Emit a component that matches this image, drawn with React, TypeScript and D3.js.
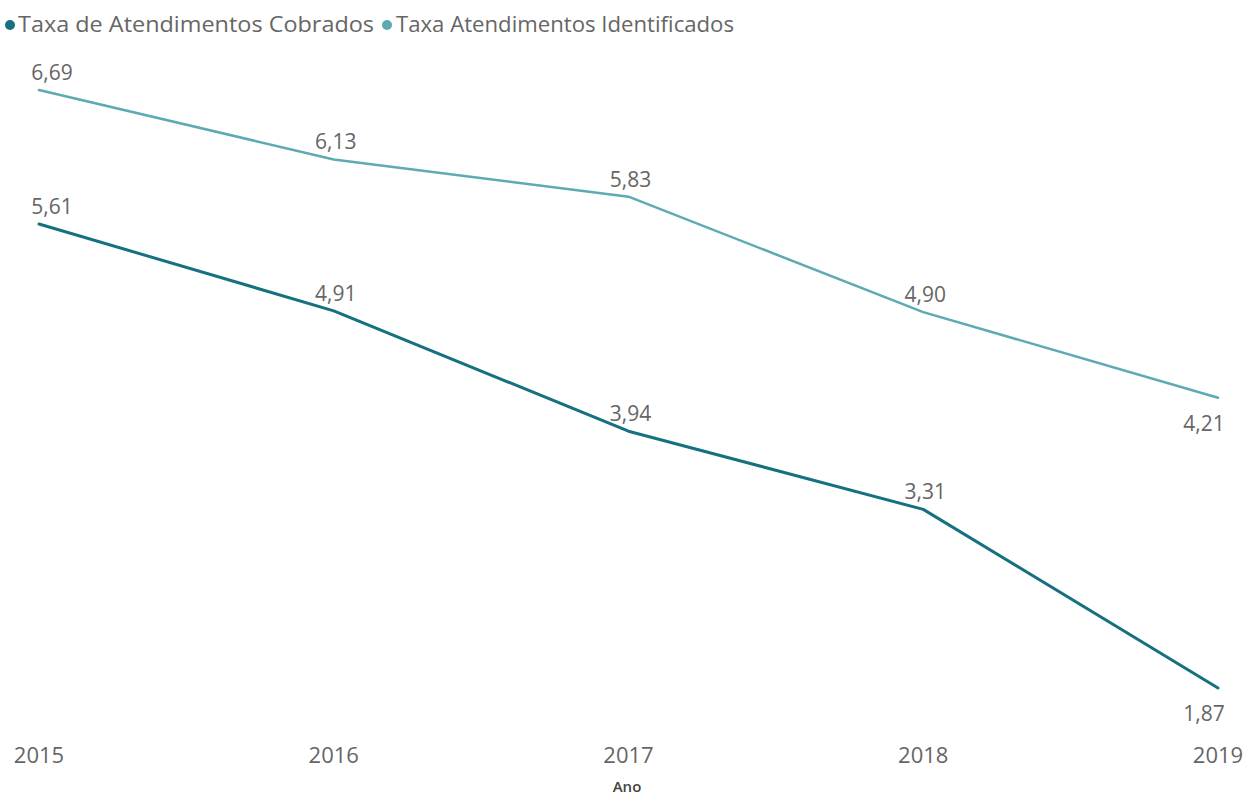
import React from "react";
import * as d3 from "d3";

const years = ["2015", "2016", "2017", "2018", "2019"];
const cobrados = [5.61, 4.91, 3.94, 3.31, 1.87];
const identificados = [6.69, 6.13, 5.83, 4.9, 4.21];
const cobradosLabelPos = ["above", "above", "above", "above", "below"];
const identificadosLabelPos = ["above", "above", "above", "above", "below"];
const seriesNames = ["Taxa de Atendimentos Cobrados", "Taxa Atendimentos Identificados"];
const xAxisTitle = "Ano";

const W = 1248;
const H = 796;
const FONT = "'Open Sans', 'Noto Sans', sans-serif";
const DARK = "#15707f";
const LIGHT = "#5eaab2";
const TEXT = "#666666";

export default function App() {
  const x = d3.scalePoint<string>().domain(years).range([39, 1218]);
  const y = d3.scaleLinear().domain([1.87, 6.69]).range([688, 90]);
  const line = d3
    .line<number>()
    .x((_, i) => x(years[i]) as number)
    .y((d) => y(d));

  const fmt = (v: number) => v.toFixed(2).replace(".", ",");

  const series = [
    { name: seriesNames[0], data: cobrados, pos: cobradosLabelPos, color: DARK, width: 3 },
    { name: seriesNames[1], data: identificados, pos: identificadosLabelPos, color: LIGHT, width: 2.5 },
  ];

  const labelX = (i: number) => {
    const px = x(years[i]) as number;
    if (i === 0) return px + 13;
    if (i === years.length - 1) return px - 14;
    return px + 2;
  };

  return (
    <svg
      width={W}
      height={H}
      style={{ position: "absolute", left: 0, top: 0, background: "#fff" }}
      fontFamily={FONT}
    >
      {/* legend */}
      <g>
        <circle cx={10} cy={25} r={5} fill={DARK} />
        <text x={18} y={32} fontSize={22} fill={TEXT} textLength={356} lengthAdjust="spacingAndGlyphs">
          {seriesNames[0]}
        </text>
        <circle cx={387} cy={25} r={5} fill={LIGHT} />
        <text x={396} y={32} fontSize={22} fill={TEXT} textLength={338} lengthAdjust="spacingAndGlyphs">
          {seriesNames[1]}
        </text>
      </g>

      {/* lines */}
      {series.map((s) => (
        <path
          key={s.name}
          d={line(s.data) || ""}
          fill="none"
          stroke={s.color}
          strokeWidth={s.width}
          strokeLinejoin="round"
          strokeLinecap="round"
        />
      ))}

      {/* data labels */}
      {series.map((s) =>
        s.data.map((v, i) => {
          const pos = s.pos[i];
          const yy = y(v) + (pos === "below" ? 33 : -10);
          return (
            <text
              key={s.name + i}
              x={labelX(i)}
              y={yy}
              fontSize={21}
              fill={TEXT}
              textAnchor="middle"
            >
              {fmt(v)}
            </text>
          );
        })
      )}

      {/* x axis ticks */}
      {years.map((yr) => (
        <text
          key={yr}
          x={x(yr) as number}
          y={763}
          fontSize={22}
          fill={TEXT}
          textAnchor="middle"
        >
          {yr}
        </text>
      ))}
      <text x={627} y={792} fontSize={15} fill="#444" textAnchor="middle" fontWeight={600}>
        {xAxisTitle}
      </text>
    </svg>
  );
}
